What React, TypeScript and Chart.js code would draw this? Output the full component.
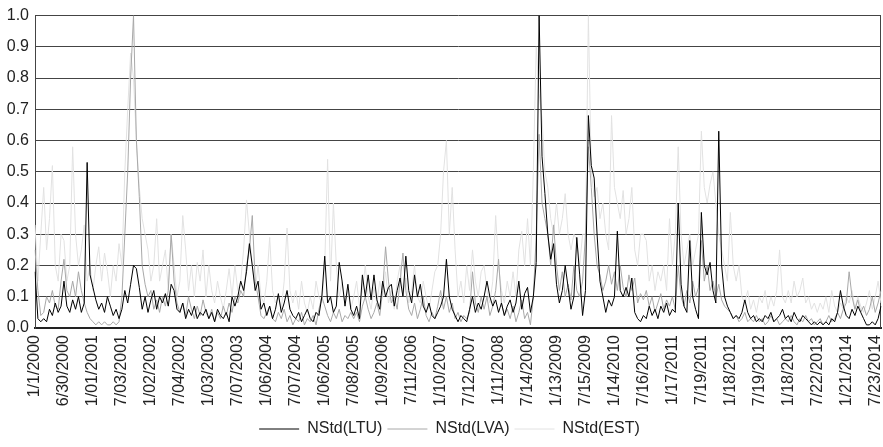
import React, { useEffect, useRef } from 'react';
import { Chart, registerables } from 'chart.js';

Chart.register(...registerables);

// Half-yearly tick labels on the category axis
const tickLabels = [
  '1/1/2000', '6/30/2000', '1/01/2001', '7/03/2001', '1/02/2002', '7/04/2002',
  '1/03/2003', '7/07/2003', '1/06/2004', '7/07/2004', '1/06/2005', '7/08/2005',
  '1/09/2006', '7/11/2006', '1/10/2007', '7/12/2007', '1/11/2008', '7/14/2008',
  '1/13/2009', '7/15/2009', '1/14/2010', '7/16/2010', '1/17/2011', '7/19/2011',
  '1/18/2012', '7/19/2012', '1/18/2013', '7/22/2013', '1/21/2014', '7/23/2014',
];
const pointsPerTick = 10;

const seriesNames = ['NStd(LTU)', 'NStd(LVA)', 'NStd(EST)'];

const ltu = [
  0.18, 0.03, 0.02, 0.03, 0.02, 0.06, 0.04, 0.08, 0.05, 0.07,
  0.15, 0.07, 0.05, 0.09, 0.06, 0.10, 0.05, 0.08, 0.53, 0.17,
  0.13, 0.09, 0.06, 0.08, 0.05, 0.10, 0.07, 0.04, 0.06, 0.03,
  0.06, 0.12, 0.08, 0.14, 0.20, 0.19, 0.13, 0.06, 0.10, 0.05,
  0.09, 0.12, 0.06, 0.10, 0.08, 0.11, 0.07, 0.14, 0.12, 0.06,
  0.05, 0.08, 0.03, 0.06, 0.04, 0.07, 0.03, 0.05, 0.04, 0.06,
  0.03, 0.05, 0.02, 0.06, 0.04, 0.03, 0.05, 0.02, 0.10, 0.07,
  0.10, 0.15, 0.12, 0.18, 0.27, 0.20, 0.12, 0.15, 0.06, 0.08,
  0.04, 0.07, 0.03, 0.06, 0.11, 0.05, 0.08, 0.12, 0.06, 0.04,
  0.03, 0.05, 0.02, 0.04, 0.06, 0.03, 0.02, 0.05, 0.04, 0.10,
  0.23, 0.08, 0.10, 0.05, 0.07, 0.21, 0.15, 0.07, 0.14, 0.06,
  0.04, 0.07, 0.03, 0.17, 0.10, 0.17, 0.09, 0.17, 0.09, 0.06,
  0.15, 0.10, 0.13, 0.14, 0.07, 0.12, 0.16, 0.10, 0.23, 0.12,
  0.08, 0.17, 0.10, 0.14, 0.07, 0.05, 0.08, 0.04, 0.03, 0.05,
  0.07, 0.10, 0.22, 0.10, 0.06, 0.04, 0.02, 0.04, 0.03, 0.02,
  0.06, 0.10, 0.05, 0.08, 0.06, 0.10, 0.15, 0.10, 0.07, 0.09,
  0.05, 0.08, 0.04, 0.07, 0.09, 0.05, 0.08, 0.15, 0.06, 0.11,
  0.13, 0.05, 0.10, 0.21, 1.00, 0.55, 0.43, 0.30, 0.22, 0.27,
  0.14, 0.08, 0.12, 0.20, 0.13, 0.06, 0.10, 0.29, 0.17, 0.04,
  0.12, 0.68, 0.52, 0.48, 0.30, 0.15, 0.10, 0.05, 0.09, 0.07,
  0.10, 0.31, 0.12, 0.10, 0.13, 0.10, 0.16, 0.05, 0.03, 0.02,
  0.04, 0.03, 0.07, 0.04, 0.06, 0.03, 0.07, 0.05, 0.08, 0.04,
  0.06, 0.05, 0.40, 0.14, 0.07, 0.05, 0.28, 0.10, 0.06, 0.03,
  0.37, 0.20, 0.17, 0.21, 0.12, 0.08, 0.63, 0.20, 0.10, 0.07,
  0.05, 0.03, 0.04, 0.03, 0.05, 0.09, 0.05, 0.03, 0.04, 0.02,
  0.03, 0.02, 0.04, 0.03, 0.05, 0.02, 0.03, 0.04, 0.06, 0.03,
  0.04, 0.02, 0.05, 0.03, 0.02, 0.04, 0.03, 0.02, 0.01, 0.02,
  0.01, 0.02, 0.01, 0.02, 0.01, 0.03, 0.02, 0.05, 0.12, 0.07,
  0.04, 0.03, 0.06, 0.04, 0.07, 0.05, 0.03, 0.01, 0.01, 0.02,
  0.01, 0.03, 0.07,
];

const lva = [
  0.25, 0.12, 0.04, 0.05, 0.10, 0.08, 0.12, 0.07, 0.06, 0.15,
  0.22, 0.12, 0.10, 0.15, 0.10, 0.18, 0.12, 0.08, 0.05, 0.03,
  0.02, 0.01, 0.02, 0.01, 0.02, 0.01, 0.01, 0.02, 0.01, 0.02,
  0.10, 0.30, 0.50, 0.80, 1.00, 0.60, 0.42, 0.20, 0.14, 0.10,
  0.12, 0.06, 0.09, 0.05, 0.10, 0.07, 0.12, 0.30, 0.15, 0.08,
  0.05, 0.08, 0.04, 0.10, 0.06, 0.03, 0.07, 0.04, 0.09, 0.05,
  0.03, 0.06, 0.02, 0.05, 0.03, 0.07, 0.04, 0.08, 0.05, 0.10,
  0.08, 0.12, 0.10, 0.20, 0.25, 0.36, 0.15, 0.10, 0.04, 0.03,
  0.05, 0.07, 0.03, 0.02, 0.05, 0.03, 0.06, 0.02, 0.04, 0.01,
  0.03, 0.02, 0.05, 0.01, 0.03, 0.02, 0.04, 0.01, 0.06, 0.10,
  0.07, 0.04, 0.02, 0.05, 0.03, 0.06, 0.02, 0.04, 0.03, 0.05,
  0.03, 0.05, 0.02, 0.07, 0.10, 0.06, 0.03, 0.05, 0.08, 0.04,
  0.12, 0.26, 0.15, 0.08, 0.10, 0.06, 0.15, 0.24, 0.12, 0.06,
  0.04, 0.08, 0.03, 0.06, 0.10, 0.04, 0.02, 0.05, 0.03, 0.07,
  0.12, 0.06, 0.10, 0.05, 0.08, 0.03, 0.05, 0.02, 0.04, 0.03,
  0.05, 0.18, 0.08, 0.05, 0.10, 0.06, 0.10, 0.04, 0.07, 0.12,
  0.22, 0.08, 0.04, 0.06, 0.03, 0.07, 0.02, 0.05, 0.09, 0.03,
  0.05, 0.01, 0.10, 0.30, 0.62, 0.40, 0.35, 0.30, 0.20, 0.33,
  0.20, 0.12, 0.18, 0.10, 0.14, 0.09, 0.20, 0.12, 0.10, 0.15,
  0.30, 0.58, 0.45, 0.30, 0.20, 0.17, 0.12, 0.15, 0.20, 0.14,
  0.18, 0.12, 0.20, 0.13, 0.10, 0.17, 0.12, 0.16, 0.08, 0.11,
  0.09, 0.12, 0.07, 0.10, 0.05, 0.08, 0.11, 0.06, 0.09, 0.07,
  0.10, 0.06, 0.20, 0.10, 0.07, 0.12, 0.08, 0.15, 0.10, 0.13,
  0.28, 0.15, 0.20, 0.12, 0.15, 0.10, 0.14, 0.09, 0.07, 0.06,
  0.05, 0.03, 0.04, 0.02, 0.03, 0.05, 0.02, 0.03, 0.02, 0.04,
  0.02, 0.03, 0.01, 0.02, 0.04, 0.02, 0.03, 0.01, 0.02, 0.03,
  0.02, 0.04, 0.02, 0.01, 0.03, 0.02, 0.04, 0.02, 0.03, 0.01,
  0.02, 0.03, 0.01, 0.02, 0.04, 0.02, 0.03, 0.05, 0.03, 0.06,
  0.08, 0.18, 0.10, 0.06, 0.09, 0.05, 0.07, 0.04, 0.06, 0.10,
  0.05, 0.08, 0.12,
];

const est = [
  0.33, 0.15, 0.30, 0.45, 0.25, 0.35, 0.52, 0.20, 0.15, 0.30,
  0.28, 0.15, 0.20, 0.58, 0.30, 0.20, 0.25, 0.33, 0.15, 0.20,
  0.12, 0.20, 0.26, 0.15, 0.24, 0.18, 0.10, 0.20, 0.15, 0.27,
  0.20, 0.50, 0.70, 0.88, 0.80, 0.60, 0.45, 0.35, 0.30, 0.25,
  0.15, 0.20, 0.35, 0.15, 0.20, 0.25, 0.12, 0.30, 0.20, 0.10,
  0.15, 0.36, 0.25, 0.12, 0.20, 0.10, 0.21, 0.15, 0.25, 0.10,
  0.20, 0.12, 0.08, 0.15, 0.10, 0.06, 0.12, 0.19, 0.10, 0.20,
  0.12, 0.15, 0.25, 0.41, 0.30, 0.20, 0.12, 0.20, 0.10, 0.08,
  0.15, 0.29, 0.12, 0.08, 0.10, 0.06, 0.15, 0.32, 0.12, 0.08,
  0.12, 0.06, 0.15, 0.08, 0.05, 0.10, 0.06, 0.15, 0.10, 0.08,
  0.20, 0.54, 0.15, 0.40, 0.20, 0.10, 0.15, 0.08, 0.12, 0.06,
  0.10, 0.15, 0.07, 0.12, 0.20, 0.10, 0.06, 0.13, 0.08, 0.15,
  0.10, 0.18, 0.08, 0.12, 0.06, 0.15, 0.20, 0.10, 0.16, 0.08,
  0.12, 0.20, 0.10, 0.08, 0.15, 0.10, 0.06, 0.12, 0.18, 0.20,
  0.30, 0.50, 0.60, 0.30, 0.45, 0.25, 0.10, 0.15, 0.08, 0.20,
  0.12, 0.25, 0.15, 0.10, 0.18, 0.20, 0.12, 0.08, 0.15, 0.36,
  0.20, 0.12, 0.08, 0.15, 0.10, 0.18, 0.10, 0.25, 0.31, 0.20,
  0.35, 0.20, 0.50, 0.90, 0.75, 0.67, 0.50, 0.45, 0.35, 0.30,
  0.40, 0.30, 0.35, 0.43, 0.30, 0.25, 0.30, 0.28, 0.20, 0.30,
  0.30, 1.00, 0.50, 0.42, 0.45, 0.35, 0.40, 0.30, 0.25, 0.68,
  0.45, 0.40, 0.35, 0.44, 0.30, 0.35, 0.45, 0.25, 0.20, 0.30,
  0.30, 0.28, 0.15, 0.20, 0.12, 0.18, 0.15, 0.20, 0.12, 0.35,
  0.20, 0.30, 0.58, 0.30, 0.20, 0.25, 0.30, 0.20, 0.25, 0.30,
  0.63, 0.45, 0.40, 0.46, 0.50, 0.40, 0.30, 0.25, 0.20, 0.15,
  0.37, 0.20, 0.15, 0.20, 0.10, 0.08, 0.12, 0.06, 0.09, 0.05,
  0.10, 0.08, 0.12, 0.06, 0.10, 0.07, 0.12, 0.25, 0.10, 0.08,
  0.12, 0.08, 0.15, 0.10, 0.12, 0.16, 0.08, 0.10, 0.06, 0.08,
  0.05, 0.08, 0.06, 0.10, 0.05, 0.12, 0.07, 0.05, 0.08, 0.06,
  0.10, 0.08, 0.12, 0.06, 0.10, 0.07, 0.05, 0.08, 0.12, 0.06,
  0.10, 0.15, 0.08,
];

const yMin = 0;
const yMax = 1;
const yStep = 0.1;

const FONT = "'Liberation Sans', Arial, sans-serif";

export default function App() {
  const canvasRef = useRef<HTMLCanvasElement | null>(null);

  useEffect(() => {
    const canvas = canvasRef.current;
    if (!canvas) return;

    const categories = ltu.map((_, i) =>
      i % pointsPerTick === 0 && i / pointsPerTick < tickLabels.length
        ? tickLabels[i / pointsPerTick]
        : ''
    );

    const frame = {
      id: 'plotFrame',
      beforeDraw(chart: any) {
        // centre the legend row like the original (slightly right of canvas centre)
        if (chart.legend) {
          chart.legend.left = 18;
        }
      },
      beforeDatasetsDraw(chart: any) {
        const { ctx, chartArea } = chart;
        ctx.save();
        ctx.strokeStyle = '#444444';
        ctx.lineWidth = 1;
        ctx.beginPath();
        const x = Math.round(chartArea.right) - 0.5;
        ctx.moveTo(x, chartArea.top);
        ctx.lineTo(x, chartArea.bottom);
        ctx.stroke();
        ctx.restore();
      },
    };

    const chart = new Chart(canvas, {
      type: 'line',
      data: {
        labels: categories,
        datasets: [
          { label: seriesNames[0], data: ltu, borderColor: '#000000', backgroundColor: '#000000' },
          { label: seriesNames[1], data: lva, borderColor: '#a8a8a8', backgroundColor: '#a8a8a8' },
          { label: seriesNames[2], data: est, borderColor: '#e2e2e2', backgroundColor: '#e2e2e2' },
        ].map((d) => ({
          ...d,
          borderWidth: 1,
          pointRadius: 0,
          pointHoverRadius: 0,
          tension: 0,
          fill: false,
          pointStyle: 'line',
        })),
      },
      options: {
        animation: false,
        responsive: false,
        maintainAspectRatio: false,
        events: [],
        layout: {
          autoPadding: false,
          padding: { left: 0, right: 2, top: 15, bottom: 0 },
        },
        plugins: {
          tooltip: { enabled: false },
          legend: {
            position: 'bottom',
            labels: {
              usePointStyle: true,
              pointStyle: 'line',
              pointStyleWidth: 40,
              padding: 5,
              color: '#222222',
              font: { family: FONT, size: 16 },
            },
          },
        },
        scales: {
          x: {
            type: 'category',
            offset: false,
            grid: { display: false, drawTicks: false },
            border: { display: true, color: '#222222', width: 2 },
            ticks: {
              autoSkip: false,
              minRotation: 90,
              maxRotation: 90,
              padding: 7,
              color: '#222222',
              font: { family: FONT, size: 16 },
              callback: (_v: any, i: number) => categories[i],
            },
            afterFit: (scale: any) => {
              scale.height = 88;
              scale.paddingLeft = 0;
              scale.paddingRight = 0;
            },
          },
          y: {
            min: yMin,
            max: yMax,
            grid: { color: '#444444', lineWidth: 1, drawTicks: false },
            border: { display: true, color: '#444444', width: 1 },
            ticks: {
              stepSize: yStep,
              padding: 6,
              color: '#222222',
              font: { family: FONT, size: 16 },
              callback: (v: any) => Number(v).toFixed(1),
            },
            afterFit: (scale: any) => {
              scale.width = 35;
            },
          },
        },
      },
      plugins: [frame],
    });

    return () => chart.destroy();
  }, []);

  return (
    <div style={{ position: 'absolute', left: 0, top: 0, width: 883, height: 447, background: '#ffffff' }}>
      <canvas ref={canvasRef} width={883} height={447} style={{ display: 'block', width: 883, height: 447 }} />
    </div>
  );
}
